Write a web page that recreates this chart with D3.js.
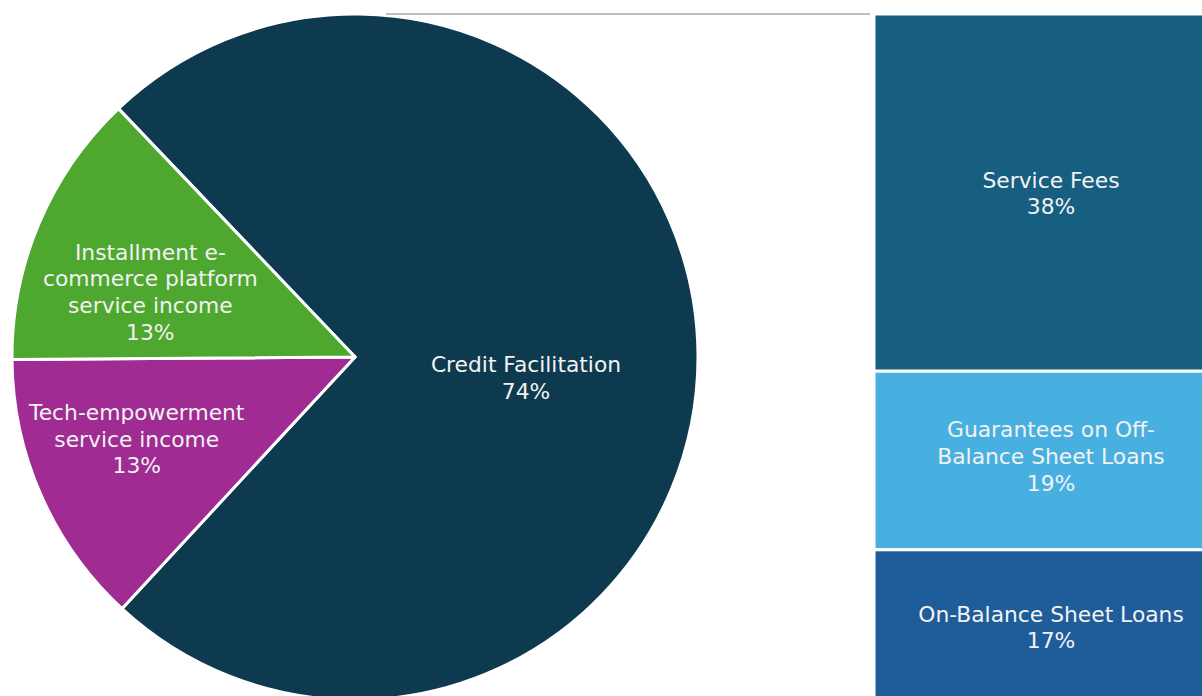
<!DOCTYPE html>
<html>
<head>
<meta charset="utf-8">
<script src="https://cdn.jsdelivr.net/npm/d3@7"></script>
<style>
  html, body { margin: 0; padding: 0; background: #fff; overflow: hidden; }
  svg { display: block; }
  text { font-family: "DejaVu Sans", Verdana, sans-serif; fill: #f2f2f2; }
</style>
</head>
<body>
<svg id="chart" width="1202" height="696"></svg>
<script>
// Revenue mix: pie of income types, with the credit facilitation slice broken out into a stacked bar
const pieCategories = ["Credit Facilitation", "Tech-empowerment service income", "Installment e-commerce platform service income"];
const pieLabelLines = [["Credit Facilitation"], ["Tech-empowerment", "service income"], ["Installment e-", "commerce platform", "service income"]];
const pieValues = [74, 13, 13];
const pieColors = ["#0d3a4f", "#a02b93", "#4ea72e"];

const barCategories = ["Service Fees", "Guarantees on Off-Balance Sheet Loans", "On-Balance Sheet Loans"];
const barLabelLines = [["Service Fees"], ["Guarantees on Off-", "Balance Sheet Loans"], ["On-Balance Sheet Loans"]];
const barValues = [38, 19, 17];
const barColors = ["#175f80", "#47b0e0", "#1f5d9a"];

const svg = d3.select("#chart");
const fontSize = 21.8, lineH = 26.7;

// ---- pie ----
const cx = 355, cy = 357, R = 343;
// credit slice is centred on the right-hand side (towards the bar)
const creditSpan = 2 * Math.PI * pieValues[0] / d3.sum(pieValues);
const tilt = -0.4 * Math.PI / 180;
const start = Math.PI / 2 - creditSpan / 2 + tilt;
const pie = d3.pie().sort(null).value(d => d)
  .startAngle(start).endAngle(start + 2 * Math.PI);
const arcs = pie(pieValues);
const arc = d3.arc().innerRadius(0).outerRadius(R);

const gPie = svg.append("g").attr("transform", `translate(${cx},${cy})`);
gPie.selectAll("path").data(arcs).join("path")
  .attr("d", arc)
  .attr("fill", (d, i) => pieColors[i])
  .attr("stroke", "#fff").attr("stroke-width", 3).attr("stroke-linejoin", "round");

const labelRadius = [171, 232, 218];
const labelShift = [[0, 22], [-6, -12], [-4, 20]];
arcs.forEach((d, i) => {
  const la = d3.arc().innerRadius(labelRadius[i]).outerRadius(labelRadius[i]);
  const c = la.centroid(d);
  const x = c[0] + labelShift[i][0], y = c[1] + labelShift[i][1];
  const lines = pieLabelLines[i].concat([pieValues[i] + "%"]);
  const t = gPie.append("text").attr("text-anchor", "middle")
    .attr("font-size", fontSize)
    .attr("x", x).attr("y", y - (lines.length - 1) * lineH / 2)
    .attr("dominant-baseline", "central");
  lines.forEach((s, k) => t.append("tspan").attr("x", x).attr("dy", k === 0 ? 0 : lineH).text(s));
});

// ---- connector ----
svg.append("line")
  .attr("x1", 386).attr("x2", 870).attr("y1", 14).attr("y2", 14)
  .attr("stroke", "#bfbfbf").attr("stroke-width", 2);

// ---- stacked bar ----
const barX = 874, barW = 358, barTop = 14;
const y = d3.scaleLinear().domain([0, d3.sum(barValues)]).range([barTop, barTop + 9.4 * d3.sum(barValues)]);
const stacked = [];
let acc = 0;
barValues.forEach((v, i) => { stacked.push({ i, y0: acc, y1: acc + v }); acc += v; });

const gBar = svg.append("g");
gBar.selectAll("rect").data(stacked).join("rect")
  .attr("x", barX).attr("width", barW)
  .attr("y", d => y(d.y0)).attr("height", d => y(d.y1) - y(d.y0))
  .attr("fill", d => barColors[d.i])
  .attr("stroke", "#fff").attr("stroke-width", 3);

const barLabelY = [193, 456, 627];
stacked.forEach(d => {
  const lines = barLabelLines[d.i].concat([barValues[d.i] + "%"]);
  const x = barX + barW / 2 - 2;
  const t = gBar.append("text").attr("text-anchor", "middle").attr("font-size", fontSize)
    .attr("x", x).attr("y", barLabelY[d.i] - (lines.length - 1) * lineH / 2)
    .attr("dominant-baseline", "central");
  lines.forEach((s, k) => t.append("tspan").attr("x", x).attr("dy", k === 0 ? 0 : lineH).text(s));
});
</script>
</body>
</html>
